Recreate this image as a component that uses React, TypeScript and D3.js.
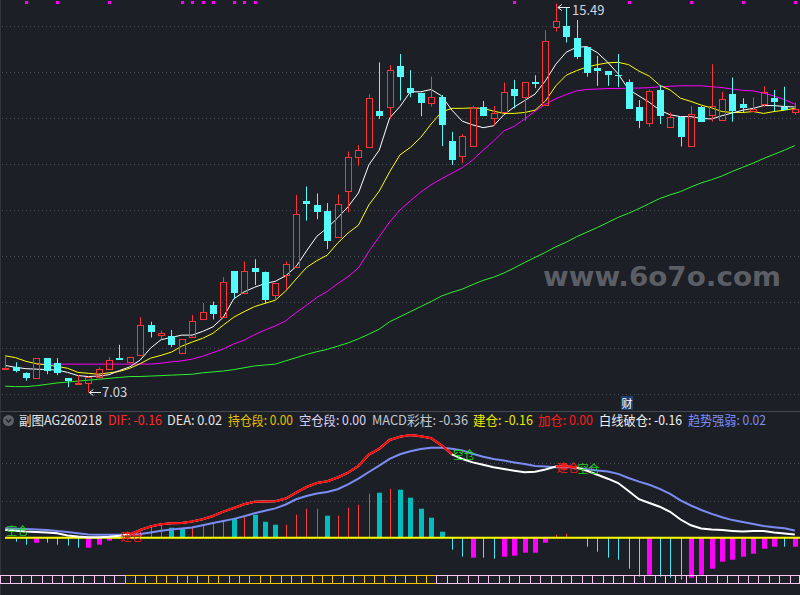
import React from "react";
import * as d3 from "d3";

const W = 800;
const H = 595;

// ---- candle data (price) ----
const opens = [7.55,7.58,7.45,7.34,7.78,7.68,7.34,7.21,7.25,7.38, 7.54,7.78,7.70,7.84,8.50,8.28,8.26,7.90,8.25,8.62, 8.93,8.68,9.67,9.19,9.73,9.66,9.15,9.59,9.77,11.20, 11.11,10.98,10.42,11.42,12.15,12.36,13.15,13.23,14.13,13.65, 13.55,13.32,13.45,12.50,12.18,12.40,13.23,12.99,13.12,13.62, 13.46,13.79,13.28,14.98,15.00,14.75,14.55,14.08,14.02,13.93, 13.79,13.23,12.90,13.61,12.80,13.03,12.39,13.23,13.07,12.96, 13.52,13.30,13.15,13.30,13.43,13.25,13.12];
const highs = [7.83,7.69,7.47,7.78,7.78,7.78,7.34,7.41,7.38,7.58, 7.80,8.07,7.81,8.67,8.57,8.38,8.39,8.19,8.72,8.98, 9.01,9.54,9.67,9.88,9.93,9.66,9.41,9.88,11.33,11.51, 11.36,11.15,11.34,12.27,12.41,13.52,14.21,14.15,14.39,14.04, 13.55,13.90,13.50,12.70,12.65,13.27,13.37,13.26,13.77,13.83, 13.78,13.93,14.91,15.49,15.41,15.13,14.55,14.35,14.02,14.39, 13.84,13.39,13.62,13.72,13.12,13.03,13.26,13.26,14.17,13.57, 13.88,13.43,13.45,13.69,13.61,13.68,13.33];
const lows = [7.53,7.47,7.29,7.34,7.43,7.41,7.15,7.20,7.03,7.38, 7.54,7.75,7.67,7.84,8.23,8.19,8.02,7.90,8.25,8.62, 8.62,8.65,9.06,9.19,9.37,8.97,9.06,9.26,9.77,10.77, 10.80,10.15,10.42,10.95,11.96,12.36,12.98,12.99,13.38,13.45, 13.04,13.25,12.39,11.98,12.02,12.40,13.04,12.83,13.12,13.21, 12.94,13.65,13.28,14.88,14.64,14.28,13.90,13.70,13.70,13.67, 13.20,12.78,12.81,12.87,12.80,12.38,12.39,12.91,12.92,12.96, 12.92,13.12,13.15,13.25,13.15,13.17,13.07];
const closes = [7.57,7.51,7.35,7.78,7.51,7.45,7.29,7.25,7.38,7.54, 7.75,7.75,7.81,8.49,8.35,8.33,8.07,8.19,8.59,8.78, 8.74,9.44,9.20,9.67,9.66,9.04,9.41,9.83,10.91,11.12, 10.96,10.33,11.13,12.15,12.30,13.43,13.04,14.04,13.90,13.55, 13.33,13.45,12.85,12.09,12.61,13.23,13.04,13.10,13.57,13.48, 13.78,13.73,14.68,15.11,14.77,14.33,13.98,14.03,13.93,13.91, 13.20,12.94,13.59,13.05,13.02,12.58,13.08,12.91,13.26,13.41, 13.15,13.21,13.20,13.56,13.35,13.17,13.20];

// ---- moving averages ----
const maWhite = [7.62,7.58,7.55,7.54,7.53,7.52,7.47,7.40,7.38,7.39, 7.42,7.51,7.59,7.74,8.00,8.18,8.23,8.28,8.28,8.36, 8.46,8.67,9.07,9.22,9.32,9.40,9.45,9.57,9.77,10.11, 10.43,10.61,10.83,11.07,11.37,11.98,12.30,13.00,13.25,13.57, 13.57,13.62,13.48,13.17,12.93,12.85,12.79,12.83,13.07,13.24, 13.38,13.52,13.81,14.17,14.43,14.54,14.55,14.42,14.21,13.96, 13.62,13.48,13.34,13.17,13.07,13.03,13.03,12.99,12.98,13.05, 13.11,13.17,13.21,13.27,13.27,13.25,13.24];
const maYellow = [7.83,7.79,7.71,7.66,7.63,7.60,7.56,7.47,7.45,7.43, 7.46,7.49,7.56,7.66,7.78,7.84,7.91,8.04,8.13,8.21, 8.32,8.50,8.67,8.79,8.90,8.97,9.04,9.24,9.50,9.75, 9.90,10.02,10.28,10.50,10.67,11.11,11.41,11.83,12.20,12.36, 12.58,12.87,13.13,13.21,13.21,13.22,13.21,13.15,13.10,13.10, 13.12,13.17,13.37,13.70,13.93,14.03,14.11,14.16,14.20,14.21, 14.16,14.02,13.91,13.71,13.61,13.43,13.36,13.28,13.22,13.14, 13.12,13.12,13.14,13.10,13.14,13.17,13.21];
const maMagenta: (number | null)[] = [null,null,null,7.65,7.65,7.65,7.65,7.65,7.65,7.65, 7.65,7.65,7.65,7.65,7.65,7.67,7.70,7.72,7.76,7.82, 7.90,7.98,8.09,8.17,8.29,8.39,8.48,8.59,8.77,8.93, 9.10,9.23,9.40,9.55,9.74,10.10,10.42,10.74,11.00,11.20, 11.39,11.55,11.68,11.80,11.92,12.09,12.30,12.50,12.72,12.82, 12.98,13.15,13.30,13.42,13.51,13.59,13.62,13.63,13.64,13.64, 13.65,13.65,13.66,13.68,13.69,13.70,13.70,13.70,13.68,13.66, 13.63,13.60,13.59,13.54,13.48,13.40,13.30];
const maGreen = [7.17,7.16,7.16,7.18,7.21,7.24,7.26,7.28,7.30,7.32, 7.34,7.36,7.38,7.38,7.39,7.40,7.41,7.42,7.43,7.46, 7.48,7.50,7.53,7.57,7.61,7.63,7.65,7.72,7.79,7.86, 7.92,7.97,8.04,8.11,8.20,8.30,8.41,8.57,8.68,8.79, 8.90,9.01,9.13,9.21,9.28,9.38,9.47,9.54,9.63,9.74, 9.86,9.97,10.08,10.20,10.30,10.42,10.52,10.62,10.73,10.84, 10.93,11.03,11.14,11.25,11.33,11.40,11.50,11.59,11.66,11.74, 11.84,11.93,12.02,12.12,12.21,12.30,12.40];

// ---- sub-chart indicator ----
const dif = [0.077,0.069,0.061,0.057,0.052,0.045,0.022,0.011,0.005,0.005, 0.010,0.020,0.034,0.077,0.112,0.135,0.144,0.147,0.163,0.184, 0.217,0.261,0.297,0.334,0.359,0.361,0.364,0.392,0.451,0.507, 0.547,0.565,0.602,0.650,0.717,0.832,0.889,0.977,1.010,1.027, 1.015,0.995,0.924,0.834,0.787,0.753,0.729,0.704,0.687,0.670, 0.655,0.659,0.682,0.712,0.714,0.699,0.670,0.630,0.590,0.547, 0.467,0.385,0.347,0.310,0.259,0.182,0.124,0.093,0.083,0.076, 0.068,0.062,0.067,0.067,0.053,0.043,0.032];
const dea = [0.094,0.090,0.086,0.082,0.078,0.066,0.057,0.044,0.033,0.030, 0.030,0.030,0.031,0.036,0.052,0.069,0.082,0.092,0.103,0.125, 0.146,0.166,0.188,0.215,0.245,0.270,0.293,0.332,0.384,0.417, 0.442,0.458,0.485,0.534,0.591,0.657,0.721,0.789,0.834,0.865, 0.888,0.900,0.900,0.889,0.873,0.839,0.810,0.787,0.771,0.753, 0.736,0.717,0.713,0.705,0.707,0.700,0.685,0.673,0.662,0.638, 0.597,0.561,0.529,0.488,0.438,0.374,0.322,0.277,0.238,0.204, 0.176,0.157,0.138,0.118,0.105,0.094,0.073];
const macdBars = [-0.01,-0.04,-0.07,-0.05,-0.05,-0.07,-0.08,-0.10,-0.10,-0.07, -0.03,-0.01,0.01,0.06,0.11,0.14,0.10,0.09,0.11,0.12, 0.14,0.17,0.19,0.22,0.23,0.16,0.13,0.13,0.23,0.29, 0.29,0.22,0.22,0.30,0.33,0.44,0.45,0.49,0.48,0.40, 0.29,0.20,0.06,-0.12,-0.19,-0.20,-0.20,-0.21,-0.19,-0.18, -0.15,-0.15,-0.05,0.03,0.04,0,-0.09,-0.14,-0.20,-0.22, -0.31,-0.39,-0.37,-0.39,-0.40,-0.42,-0.40,-0.37,-0.31,-0.24, -0.22,-0.19,-0.16,-0.11,-0.09,-0.09,-0.09];
const barThick = [0,0,0,1,0,0,0,0,1,1, 1,0,0,0,0,0,1,1,0,0, 0,0,1,0,1,1,1,0,0,0, 0,1,0,0,0,0,1,0,1,1, 1,1,1,0,0,1,0,0,1,1, 1,1,1,0,0,0,0,0,0,0, 0,0,1,0,0,0,1,1,1,1, 1,1,1,1,1,0,1];
const stripState = [0,0,0,0,0,0,0,0,0,0, 0,0,1,1,1,1,1,1,1,1, 1,1,1,1,1,1,1,1,1,1, 1,1,1,1,1,1,1,1,1,1, 1,1,0,0,0,0,0,0,0,0, 0,0,0,0,0,0,0,0,0,0, 0,0,0,0,0,0,0,0,0,0, 0,0,0,0,0,0,0];
const topSignals = [2, 5, 10, 17, 18, 19, 20, 22, 23, 24, 49, 60, 66, 71, 76];
const signalIdx = [0, 11, 43, 53, 55];
const signalText = ["空仓", "建仓", "空仓", "建仓", "空仓"];
const signalColor = ["#1ed21e", "#ff1a1a", "#1ed21e", "#ff1a1a", "#1ed21e"];

const priceTicks = [7, 8, 9, 10, 11, 12, 13, 14, 15];
const subGridY = [463.5, 501.5];

const headerItems = [
  { t: "副图AG260218", x: 19, w: 83, c: "#e4e4e4" },
  { t: "DIF: -0.16", x: 108, w: 54, c: "#ff2a2a" },
  { t: "DEA: 0.02", x: 167, w: 55, c: "#e4e4e4" },
  { t: "持仓段: 0.00", x: 228, w: 65, c: "#e6c000" },
  { t: "空仓段: 0.00", x: 299, w: 67, c: "#dcd2f6" },
  { t: "MACD彩柱: -0.36", x: 372, w: 96, c: "#c2c8d0" },
  { t: "建仓: -0.16", x: 473, w: 60, c: "#e8e800" },
  { t: "加仓: 0.00", x: 538, w: 55, c: "#ff1a1a" },
  { t: "白线破仓: -0.16", x: 599, w: 83, c: "#f0f0f0" },
  { t: "趋势强弱: 0.02", x: 688, w: 78, c: "#7b8cf5" },
];

const N = opens.length;
const RED = "#ff3434";
const CYAN = "#54fbfb";
const BG = "#1c1f26";
const GRID = "#4a4f5a";
const FONT = "'Noto Sans CJK SC', 'Noto Sans', sans-serif";

export default function App() {
  const x = d3.scaleBand<number>().domain(d3.range(N)).range([0, W]);
  const bw = x.bandwidth();
  const cx = (i: number) => (x(i) as number) + bw / 2;
  const y = d3.scaleLinear().domain([7, 15]).range([394, 26]);
  const ym = d3.scaleLinear().domain([0, 1]).range([537.7, 437.7]);

  const priceLine = d3
    .line<number | null>()
    .defined((d) => d != null)
    .x((_, i) => cx(i))
    .y((d) => y(d as number));
  const subLine = d3
    .line<number>()
    .x((_, i) => cx(i))
    .y((d) => ym(d));

  const redSegs: string[] = [];
  for (let i = 0; i < N - 1; i++) {
    if (dif[i] >= dea[i]) {
      redSegs.push(`M${cx(i)},${ym(dif[i])}L${cx(i + 1)},${ym(dif[i + 1])}`);
    }
  }

  const zeroY = ym(0);

  return (
    <div style={{ position: "fixed", left: 0, top: 0, width: W, height: H }}>
      <svg width={W} height={H} style={{ display: "block", background: BG }}>
        <rect x={0} y={0} width={W} height={H} fill={BG} />
        <line x1={0.5} x2={0.5} y1={0} y2={H} stroke="#30333b" />

        {/* main grid */}
        {priceTicks.map((p) => (
          <line key={p} x1={2} x2={W} y1={Math.round(y(p)) + 0.5} y2={Math.round(y(p)) + 0.5}
            stroke={GRID} strokeDasharray="1 3" />
        ))}

        {/* watermark */}
        <text x={543} y={286} fill="#5b5e65" fontFamily="'DejaVu Sans', sans-serif" fontWeight="bold"
          fontSize={27} textLength={238} lengthAdjust="spacingAndGlyphs">www.6o7o.com</text>

        {/* top signals */}
        {topSignals.map((i) => (
          <rect key={"s" + i} x={Math.round(cx(i)) - 1} y={1} width={3} height={3} fill="#ff00ff" />
        ))}

        {/* moving averages */}
        <path d={priceLine(maGreen) || ""} fill="none" stroke="#2ef02e" strokeWidth={1} />
        <path d={priceLine(maMagenta) || ""} fill="none" stroke="#ff00ff" strokeWidth={1} />
        <path d={priceLine(maYellow) || ""} fill="none" stroke="#ffff00" strokeWidth={1} />
        <path d={priceLine(maWhite) || ""} fill="none" stroke="#ffffff" strokeWidth={1} />

        {/* candles */}
        {opens.map((o, i) => {
          const c = closes[i];
          const up = c >= o;
          const xc = Math.round(cx(i)) + 0.5;
          const top = Math.round(y(Math.max(o, c)));
          const bot = Math.round(y(Math.min(o, c)));
          const hy = y(highs[i]);
          const ly = y(lows[i]);
          if (up) {
            return (
              <g key={i}>
                <line x1={xc} x2={xc} y1={hy} y2={top} stroke={RED} />
                <line x1={xc} x2={xc} y1={bot} y2={ly} stroke={RED} />
                <rect x={xc - 3} y={top + 0.5} width={6} height={Math.max(bot - top, 0.01)} fill="none" stroke={RED} />
              </g>
            );
          }
          return (
            <g key={i}>
              <line x1={xc} x2={xc} y1={hy} y2={ly} stroke={CYAN} />
              <rect x={xc - 3.5} y={top} width={7} height={Math.max(bot - top, 1)} fill={CYAN} />
            </g>
          );
        })}

        {/* high / low annotations */}
        <g stroke="#e8ecf0" strokeWidth={1} fill="none">
          <path d={`M${cx(53) + 2},7.5 H570 M${cx(53) + 2},7.5 l4,-3 M${cx(53) + 2},7.5 l4,3`} />
          <path d={`M${cx(8) + 1},392.5 H101 M${cx(8) + 1},392.5 l4,-3 M${cx(8) + 1},392.5 l4,3`} />
        </g>
        <text x={572} y={14.5} fill="#cfd6de" fontFamily={FONT} fontSize={13}>15.49</text>
        <text x={102} y={397} fill="#cfd6de" fontFamily={FONT} fontSize={13}>7.03</text>

        {/* 财 tag */}
        <rect x={621} y={396} width={12} height={14} fill="#1d3f70" />
        <text x={627} y={408} textAnchor="middle" fill="#ffffff" fontFamily={FONT} fontSize={11}>财</text>

        {/* separator */}
        <line x1={0} x2={W} y1={411.5} y2={411.5} stroke="#454952" />

        {/* header */}
        <circle cx={8.5} cy={420.5} r={5.5} fill="#5d6169" />
        <path d="M5.8,419.2 L8.5,422 L11.2,419.2" fill="none" stroke="#1c1f26" strokeWidth={1.3} />
        {headerItems.map((h) => (
          <text key={h.t} x={h.x} y={424.5} fill={h.c} fontFamily={FONT} fontSize={13}
            textLength={h.w} lengthAdjust="spacingAndGlyphs">{h.t}</text>
        ))}

        {/* sub grid */}
        {subGridY.map((g) => (
          <line key={g} x1={2} x2={W} y1={g} y2={g} stroke={GRID} strokeDasharray="1 3" />
        ))}

        {/* histogram */}
        {macdBars.map((v, i) => {
          const xc = Math.round(cx(i));
          const y0 = zeroY;
          const y1 = ym(v);
          const thick = barThick[i] === 1;
          const pos = v >= 0;
          if (v === 0) return null;
          if (thick) {
            return (
              <rect key={"b" + i} x={xc - 2} y={Math.min(y0, y1)} width={5} height={Math.abs(y1 - y0)}
                fill={pos ? "#00bebe" : "#ff00ff"} />
            );
          }
          return (
            <line key={"b" + i} x1={xc + 0.5} x2={xc + 0.5} y1={y0} y2={y1}
              stroke={pos ? "#ff3c3c" : "#46e6f6"} strokeWidth={1} />
          );
        })}

        {/* zero line */}
        <line x1={cx(0)} x2={W} y1={zeroY} y2={zeroY} stroke="#ffff00" strokeWidth={2} />

        {/* DEA & DIF */}
        <path d={subLine(dea) || ""} fill="none" stroke="#7b8cf5" strokeWidth={2} />
        <path d={subLine(dif) || ""} fill="none" stroke="#ffffff" strokeWidth={2} />
        <path d={redSegs.join("")} fill="none" stroke="#ff0000" strokeWidth={2} />

        {/* signal labels */}
        {signalIdx.map((i, k) => (
          <text key={"t" + k} x={cx(i) + 1} y={ym(dif[i]) + 5} fill={signalColor[k]}
            fontFamily={FONT} fontSize={11}>{signalText[k]}</text>
        ))}

        {/* bottom state strip */}
        {stripState.map((s, i) => {
          const x0 = Math.round(x(i) as number) + 0.5;
          const x1 = Math.min(Math.round((x(i) as number) + bw) + 0.5, W - 0.5);
          return (
            <rect key={"c" + i} x={x0} y={575.5} width={x1 - x0} height={8}
              fill="none" stroke={s ? "#f5c400" : "#f6c6ee"} strokeWidth={1} />
          );
        })}
      </svg>
    </div>
  );
}
